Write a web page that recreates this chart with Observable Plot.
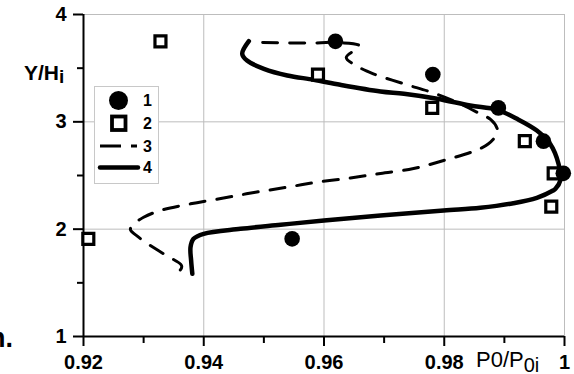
<!DOCTYPE html>
<html>
<head>
<meta charset="utf-8">
<script src="https://cdn.jsdelivr.net/npm/d3@7"></script>
<script src="https://cdn.jsdelivr.net/npm/@observablehq/plot@0.6"></script>
<style>
  html, body { margin: 0; padding: 0; background: #fff; }
  #chart svg { display: block; }
</style>
</head>
<body>
<div id="chart"></div>
<script>
// Series 1: measured total-pressure ratio (filled circles)
const s1P = [0.9619, 0.9781, 0.9890, 0.9965, 0.9998, 0.9547];
const s1Y = [3.75, 3.44, 3.13, 2.82, 2.52, 1.91];

// Series 2: measured total-pressure ratio (open squares)
const s2P = [0.9328, 0.9590, 0.9780, 0.9934, 0.9982, 0.9978, 0.9208];
const s2Y = [3.75, 3.44, 3.13, 2.82, 2.52, 2.21, 1.91];

// Series 3: computed profile (dashed)
const s3P = [0.9498, 0.9577, 0.9619, 0.9659, 0.9637, 0.9656, 0.9681, 0.9734, 0.9782,
             0.9822, 0.9857, 0.9877, 0.9888, 0.9888, 0.9873, 0.9848, 0.9799, 0.9749,
             0.9694, 0.9644, 0.9589, 0.9539, 0.9486, 0.9433, 0.9378, 0.9328, 0.9300,
             0.9283, 0.9278, 0.9290, 0.9311, 0.9336, 0.9363, 0.9361, 0.9350];
const s3Y = [3.739, 3.734, 3.739, 3.707, 3.599, 3.516, 3.450, 3.352, 3.269,
             3.180, 3.082, 3.022, 2.938, 2.891, 2.793, 2.724, 2.640, 2.565,
             2.519, 2.477, 2.438, 2.391, 2.344, 2.290, 2.236, 2.174, 2.111,
             2.043, 1.997, 1.932, 1.848, 1.760, 1.662, 1.620, 1.596];

// Series 4: computed profile (solid)
const s4P = [0.9475, 0.9464, 0.9472, 0.9500, 0.9539, 0.9583, 0.9627, 0.9694, 0.9733,
             0.9788, 0.9843, 0.9888, 0.9921, 0.9954, 0.9976, 0.9990, 0.9993, 0.9985,
             0.9981, 0.9954, 0.9915, 0.9860, 0.9799, 0.9694, 0.9600, 0.9528, 0.9461,
             0.9400, 0.9383, 0.9378, 0.9379, 0.9381];
const s4Y = [3.751, 3.634, 3.571, 3.494, 3.432, 3.392, 3.345, 3.283, 3.261,
             3.215, 3.152, 3.112, 3.028, 2.919, 2.795, 2.609, 2.453, 2.376,
             2.360, 2.292, 2.242, 2.199, 2.174, 2.127, 2.081, 2.041, 2.003,
             1.957, 1.910, 1.832, 1.708, 1.584];

// Axis ticks and legend entries
const xMajor = [0.92, 0.94, 0.96, 0.98, 1];
const xMinor = [0.93, 0.95, 0.97, 0.99];
const yMajor = [1, 2, 3, 4];
const yMinor = [1.5, 2.5, 3.5];
const xGrid = [0.94, 0.96, 0.98, 1];
const yGrid = [2, 3, 4];
const legendLabels = ["1", "2", "3", "4"];

const toRows = (xs, ys) => xs.map((x, i) => ({x, y: ys[i]}));
const d1 = toRows(s1P, s1Y);
const d2 = toRows(s2P, s2Y);
const d3s = toRows(s3P, s3Y);
const d4 = toRows(s4P, s4Y);

const FONT = "'Liberation Sans', Arial, Helvetica, sans-serif";
const GRID = "#bdbdbd";
const tickText = {fontSize: 20, fontWeight: "bold", fontFamily: FONT, fill: "#000"};

const chart = Plot.plot({
  width: 574,
  height: 374,
  marginLeft: 83,
  marginRight: 10,
  marginTop: 14,
  marginBottom: 38,
  style: {fontFamily: FONT, color: "#000", background: "#fff"},
  x: {domain: [0.92, 1]},
  y: {domain: [1, 4]},
  marks: [
    Plot.gridX(xGrid, {stroke: GRID, strokeOpacity: 1, strokeWidth: 1}),
    Plot.gridY(yGrid, {stroke: GRID, strokeOpacity: 1, strokeWidth: 1}),
    Plot.axisY(yMajor, {...tickText, tickSize: 10, tickPadding: 7, strokeWidth: 2, stroke: "#000",
      tickFormat: d3.format("d"), label: null}),
    Plot.axisY(yMinor, {tickSize: 6, strokeWidth: 2, stroke: "#000",
      tickFormat: () => "", label: null}),
    Plot.axisX(xMajor, {...tickText, tickSize: 10, tickPadding: 8, strokeWidth: 2, stroke: "#000",
      tickFormat: d => d === 1 ? "1" : d3.format(".2f")(d), label: null}),
    Plot.axisX(xMinor, {tickSize: 7, strokeWidth: 2, stroke: "#000",
      tickFormat: () => "", label: null}),
    Plot.ruleX([0.92], {stroke: "#000", strokeWidth: 2}),
    Plot.ruleY([1], {stroke: "#000", strokeWidth: 2}),
    Plot.line(d3s, {x: "x", y: "y", stroke: "#000", strokeWidth: 3,
      strokeDasharray: "15,12", curve: "catmull-rom", strokeLinejoin: "round"}),
    Plot.line(d4, {x: "x", y: "y", stroke: "#000", strokeWidth: 4.5,
      curve: "catmull-rom", strokeLinejoin: "round", strokeLinecap: "round"}),
    Plot.dot(d2, {x: "x", y: "y", symbol: "square", r: 6.2, fill: "#fff",
      stroke: "#000", strokeWidth: 3.2}),
    Plot.dot(d1, {x: "x", y: "y", r: 7.8, fill: "#000", stroke: "none"})
  ]
});

document.getElementById("chart").appendChild(chart);

// Axis titles and legend, in the SVG's pixel space
const svg = d3.select(chart);

const yTitle = svg.append("text")
  .attr("x", 24).attr("y", 80).attr("text-anchor", "start")
  .attr("font-family", FONT).attr("font-weight", "bold").attr("font-size", 21)
  .attr("fill", "#000");
yTitle.append("tspan").text("Y/H");
yTitle.append("tspan").attr("font-size", 19).attr("dy", 3).text("i");

const xTitle = svg.append("text")
  .attr("x", 476).attr("y", 367).attr("text-anchor", "start")
  .attr("font-family", FONT).attr("font-weight", "normal").attr("font-size", 22)
  .attr("fill", "#000");
xTitle.append("tspan").text("P0/P");
xTitle.append("tspan").attr("dy", 5).attr("font-size", 20).text("0i");

svg.append("text")
  .attr("x", -11).attr("y", 347).attr("text-anchor", "start")
  .attr("font-family", FONT).attr("font-weight", "bold").attr("font-size", 27)
  .attr("fill", "#000").text("n.");

const lg = svg.append("g");
lg.append("rect")
  .attr("x", 94.5).attr("y", 86.5).attr("width", 64).attr("height", 97)
  .attr("fill", "#fff").attr("stroke", "#c8c8c8").attr("stroke-width", 1);
lg.append("circle").attr("cx", 118.5).attr("cy", 100.5).attr("r", 9.5).attr("fill", "#000");
lg.append("rect").attr("x", 112).attr("y", 116.5).attr("width", 13.5).attr("height", 13.5)
  .attr("fill", "#fff").attr("stroke", "#000").attr("stroke-width", 3.8);
lg.append("line").attr("x1", 100).attr("x2", 138).attr("y1", 146).attr("y2", 146)
  .attr("stroke", "#000").attr("stroke-width", 3).attr("stroke-dasharray", "21,10,6,20");
lg.append("line").attr("x1", 100).attr("x2", 138).attr("y1", 167.5).attr("y2", 167.5)
  .attr("stroke", "#000").attr("stroke-width", 4.5).attr("stroke-linecap", "round");
lg.selectAll("text.lab").data(legendLabels).join("text")
  .attr("class", "lab").attr("text-anchor", "start")
  .attr("x", 143).attr("y", (d, i) => [106, 129, 152, 173][i])
  .attr("font-family", FONT).attr("font-weight", "bold").attr("font-size", 16)
  .attr("fill", "#000").text(d => d);
</script>
</body>
</html>
